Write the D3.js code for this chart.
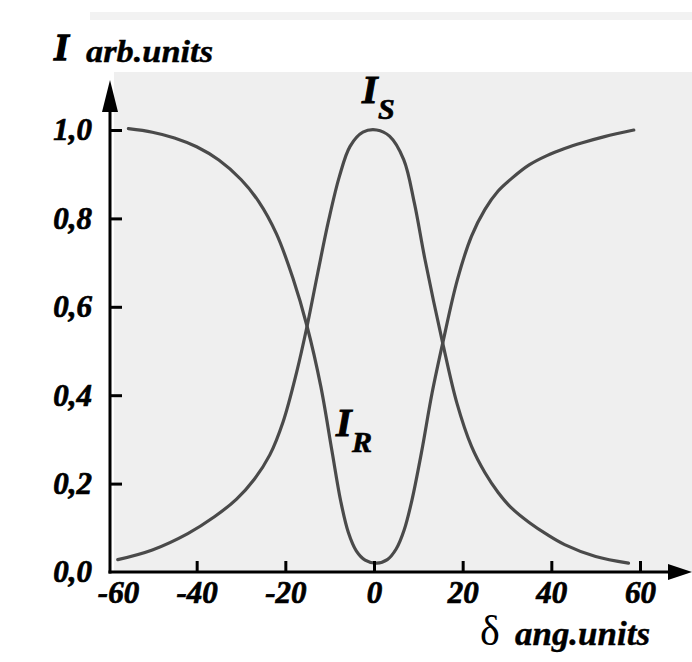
<!DOCTYPE html>
<html>
<head>
<meta charset="utf-8">
<script src="https://cdn.jsdelivr.net/npm/d3@7"></script>
<style>
  body { margin: 0; background: #ffffff; }
  text { font-family: "Liberation Serif", "Times New Roman", serif; }
</style>
</head>
<body>
<div id="chart"></div>
<script>
// I_S curve (bell)
var deltaS = [-57.8, -50, -42, -36, -31, -27, -23.5, -20.5, -17.5, -15.1, -12.7, -10.2, -7.8, -5.4, -2.5, 0.6, 3.5, 6.7, 9.1, 11.5, 15.5, 18.7, 22, 25, 28, 31, 35, 39, 43, 50, 57.4];
var intensityS = [0.028, 0.05, 0.087, 0.125, 0.165, 0.21, 0.265, 0.34, 0.45, 0.556, 0.676, 0.797, 0.895, 0.963, 0.995, 1.0, 0.986, 0.933, 0.835, 0.707, 0.518, 0.382, 0.284, 0.225, 0.18, 0.145, 0.112, 0.085, 0.062, 0.035, 0.02];

// I_R curve (dip)
var deltaR = [-55.4, -50, -45, -40, -35, -30, -26, -22, -18.3, -15.1, -12, -9.5, -7.5, -5.8, -4, -2, 0.6, 3, 5, 6.8, 8.5, 10.7, 13.1, 15.5, 18.8, 22, 25, 28, 31, 35, 39, 43, 47, 52, 58.6];
var intensityR = [1.003, 0.995, 0.982, 0.962, 0.932, 0.888, 0.838, 0.765, 0.665, 0.556, 0.42, 0.275, 0.16, 0.09, 0.048, 0.027, 0.02, 0.028, 0.052, 0.095, 0.16, 0.27, 0.405, 0.518, 0.661, 0.76, 0.82, 0.862, 0.89, 0.921, 0.942, 0.958, 0.971, 0.985, 1.0];

// axis ticks
var xTicks = [-60, -40, -20, 0, 20, 40, 60];
var yTicks = [0, 0.2, 0.4, 0.6, 0.8, 1.0];

var svgWidth = 692;
var svgHeight = 662;

var svg = d3.select("#chart")
  .append("svg")
  .attr("width", svgWidth)
  .attr("height", svgHeight);

// scales
var xScale = d3.scaleLinear().domain([-60, 60]).range([108, 640]);
var yScale = d3.scaleLinear().domain([0, 1]).range([572, 130]);
var axisX = 110;   // where the vertical axis sits
var axisY = yScale(0);

// scanned-paper grey behind the plot
svg.append("rect")
  .attr("x", 114).attr("y", 72)
  .attr("width", 578).attr("height", 500)
  .attr("fill", "#efefef");
svg.append("rect")
  .attr("x", 90).attr("y", 12)
  .attr("width", 602).attr("height", 8)
  .attr("fill", "#f2f2f2");

// curves
var line = d3.line()
  .x(d => xScale(d[0]))
  .y(d => yScale(d[1]))
  .curve(d3.curveCatmullRom.alpha(0.5));

var curves = [
  d3.zip(deltaS, intensityS),
  d3.zip(deltaR, intensityR)
];

svg.selectAll(".curve")
  .data(curves)
  .enter()
  .append("path")
  .attr("class", "curve")
  .attr("d", line)
  .attr("fill", "none")
  .attr("stroke", "#4a4a4a")
  .attr("stroke-width", 3.2)
  .attr("stroke-linecap", "round");

// bold italic text, thickened a little like the scan
function heavy(sel, size) {
  sel.attr("font-family", "Liberation Serif")
    .attr("font-size", size)
    .attr("font-weight", "bold")
    .attr("font-style", "italic")
    .attr("fill", "#000")
    .attr("stroke", "#000")
    .attr("stroke-width", 0.7);
}

// y axis (ticks point inward)
var yAxis = svg.append("g")
  .attr("transform", `translate(${axisX}, 0)`)
  .call(d3.axisLeft(yScale)
    .tickValues(yTicks)
    .tickSize(-12)
    .tickPadding(18)
    .tickFormat(d => d.toFixed(1).replace(".", ",")));

yAxis.select(".domain").remove();
yAxis.selectAll("line").attr("stroke", "#000").attr("stroke-width", 3);
heavy(yAxis.selectAll("text"), 31);
yAxis.selectAll(".tick").filter(d => d === 0).select("line").remove();

// x axis
var xAxis = svg.append("g")
  .attr("transform", `translate(0, ${axisY})`)
  .call(d3.axisBottom(xScale)
    .tickValues(xTicks)
    .tickSize(-11)
    .tickPadding(9)
    .tickFormat(d => d));

xAxis.select(".domain").remove();
xAxis.selectAll("line").attr("stroke", "#000").attr("stroke-width", 3);
heavy(xAxis.selectAll("text"), 31);
// -60 sits on the corner: no tick, label nudged right
var firstTick = xAxis.selectAll(".tick").filter(d => d === -60);
firstTick.select("line").remove();
firstTick.select("text").attr("dx", 10);

// axis lines with arrows
svg.append("line")
  .attr("x1", axisX).attr("y1", axisY + 1.5)
  .attr("x2", axisX).attr("y2", 100)
  .attr("stroke", "#000").attr("stroke-width", 3);
svg.append("path")
  .attr("d", `M${axisX},80 L${axisX - 8},112 L${axisX + 8},112 Z`)
  .attr("fill", "#000");

svg.append("line")
  .attr("x1", axisX - 1.5).attr("y1", axisY)
  .attr("x2", 675).attr("y2", axisY)
  .attr("stroke", "#000").attr("stroke-width", 3);
svg.append("path")
  .attr("d", `M692,${axisY} L668,${axisY - 8} L668,${axisY + 8} Z`)
  .attr("fill", "#000");

// axis titles
var yTitle = svg.append("text");
heavy(yTitle, 38);
yTitle.append("tspan")
  .attr("x", 54).attr("y", 60)
  .attr("stroke-width", 1.3)
  .text("I");
yTitle.append("tspan")
  .attr("x", 86).attr("y", 62)
  .attr("font-size", 32)
  .attr("stroke-width", 0.4)
  .attr("textLength", 127)
  .attr("lengthAdjust", "spacingAndGlyphs")
  .text("arb.units");

var xTitle = svg.append("text").attr("fill", "#000");
xTitle.append("tspan")
  .attr("x", 480).attr("y", 645)
  .attr("font-size", 42)
  .text("δ");
xTitle.append("tspan")
  .attr("x", 515).attr("y", 645)
  .attr("font-size", 33)
  .attr("font-weight", "bold")
  .attr("font-style", "italic")
  .attr("stroke", "#000")
  .attr("stroke-width", 0.4)
  .attr("textLength", 135)
  .attr("lengthAdjust", "spacingAndGlyphs")
  .text("ang.units");

// curve labels
function curveLabel(x, y, sub) {
  var t = svg.append("text");
  heavy(t, 40);
  t.append("tspan").attr("x", x).attr("y", y).attr("stroke-width", 1).text("I");
  t.append("tspan").attr("x", x + 16).attr("y", y + 16).attr("font-size", 30).text(sub);
}
curveLabel(362, 103, "S");
curveLabel(336, 436, "R");
</script>
</body>
</html>
